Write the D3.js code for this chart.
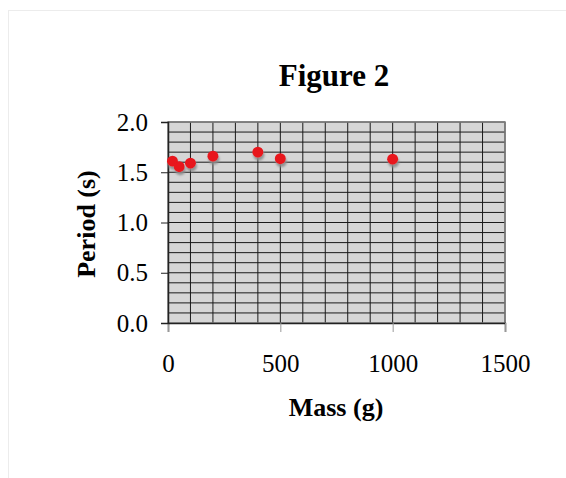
<!DOCTYPE html>
<html><head><meta charset="utf-8">
<script src="https://cdn.jsdelivr.net/npm/d3@7"></script>
<style>body{margin:0;background:#fff;}svg{display:block;}</style>
</head><body>
<script>
const massValues = [20, 50, 100, 200, 400, 500, 1000];
const periodValues = [1.61, 1.555, 1.59, 1.66, 1.70, 1.635, 1.63];
const xTickValues = [0, 500, 1000, 1500];
const yTickValues = [0, 0.5, 1.0, 1.5, 2.0];
const titleText = "Figure 2";
const xTitle = "Mass (g)";
const yTitle = "Period (s)";

const W = 566, H = 478;
const svg = d3.select("body").append("svg").attr("width", W).attr("height", H);

// outer faint border
svg.append("rect").attr("x", 8.5).attr("y", 10.5).attr("width", W).attr("height", H)
  .attr("fill", "none").attr("stroke", "#ececec");

const x = d3.scaleLinear().domain([0, 1500]).range([168, 505]);
const y = d3.scaleLinear().domain([0, 2]).range([323, 122]);

const defs = svg.append("defs");
const f = defs.append("filter").attr("id", "sh").attr("x", "-50%").attr("y", "-50%").attr("width", "200%").attr("height", "200%");
f.append("feDropShadow").attr("dx", 1).attr("dy", 3).attr("stdDeviation", 1.2)
  .attr("flood-color", "#8a8a8a").attr("flood-opacity", 0.9);

// plot background
svg.append("rect").attr("x", x(0)).attr("y", y(2)).attr("width", x(1500) - x(0)).attr("height", y(0) - y(2))
  .attr("fill", "#d6d6d6");

const g = svg.append("g");
// vertical gridlines every 100
g.selectAll("line.v").data(d3.range(100, 1501, 100)).join("line")
  .attr("x1", d => x(d)).attr("x2", d => x(d)).attr("y1", y(0)).attr("y2", y(2))
  .attr("stroke", "#1a1a1a").attr("stroke-width", 1);
// horizontal gridlines every 0.1
g.selectAll("line.h").data(d3.range(1, 21).map(i => i / 10)).join("line")
  .attr("x1", x(0)).attr("x2", x(1500)).attr("y1", d => y(d)).attr("y2", d => y(d))
  .attr("stroke", "#1a1a1a").attr("stroke-width", 1);
// plot outline
svg.append("rect").attr("x", x(0)).attr("y", y(2)).attr("width", x(1500) - x(0)).attr("height", y(0) - y(2))
  .attr("fill", "none").attr("stroke", "#808080").attr("stroke-width", 1.5);

// axes
const xAxis = d3.axisBottom(x).tickValues(xTickValues).tickSize(9).tickPadding(22).tickFormat(d3.format("d"));
const yAxis = d3.axisLeft(y).tickValues(yTickValues).tickSize(7).tickPadding(13).tickFormat(d3.format(".1f"));

const gx = svg.append("g").attr("transform", `translate(0,${y(0)})`).call(xAxis);
const gy = svg.append("g").attr("transform", `translate(${x(0)},0)`).call(yAxis);
[gx, gy].forEach(a => {
  a.select(".domain").attr("stroke", "#222").attr("stroke-width", 1.5);
  a.selectAll(".tick line").attr("stroke", "#222");
  a.selectAll("text").attr("font-family", "Liberation Serif, Times New Roman, serif")
    .attr("font-size", 25).attr("fill", "#000");
});
gx.selectAll(".tick line").attr("stroke", "#999");

// points
svg.append("g").selectAll("circle").data(massValues.map((m, i) => [m, periodValues[i]])).join("circle")
  .attr("cx", d => x(d[0])).attr("cy", d => y(d[1])).attr("r", 5.5)
  .attr("fill", "#e8141c").attr("filter", "url(#sh)");

// titles
svg.append("text").attr("x", 334).attr("y", 86).attr("text-anchor", "middle")
  .attr("font-family", "Liberation Serif, Times New Roman, serif").attr("font-weight", "bold")
  .attr("font-size", 31).text(titleText);
svg.append("text").attr("x", 336).attr("y", 416).attr("text-anchor", "middle")
  .attr("font-family", "Liberation Serif, Times New Roman, serif").attr("font-weight", "bold")
  .attr("font-size", 26).text(xTitle);
svg.append("text").attr("transform", "translate(95,224) rotate(-90)").attr("text-anchor", "middle")
  .attr("font-family", "Liberation Serif, Times New Roman, serif").attr("font-weight", "bold")
  .attr("font-size", 26).text(yTitle);
</script>
</body></html>
